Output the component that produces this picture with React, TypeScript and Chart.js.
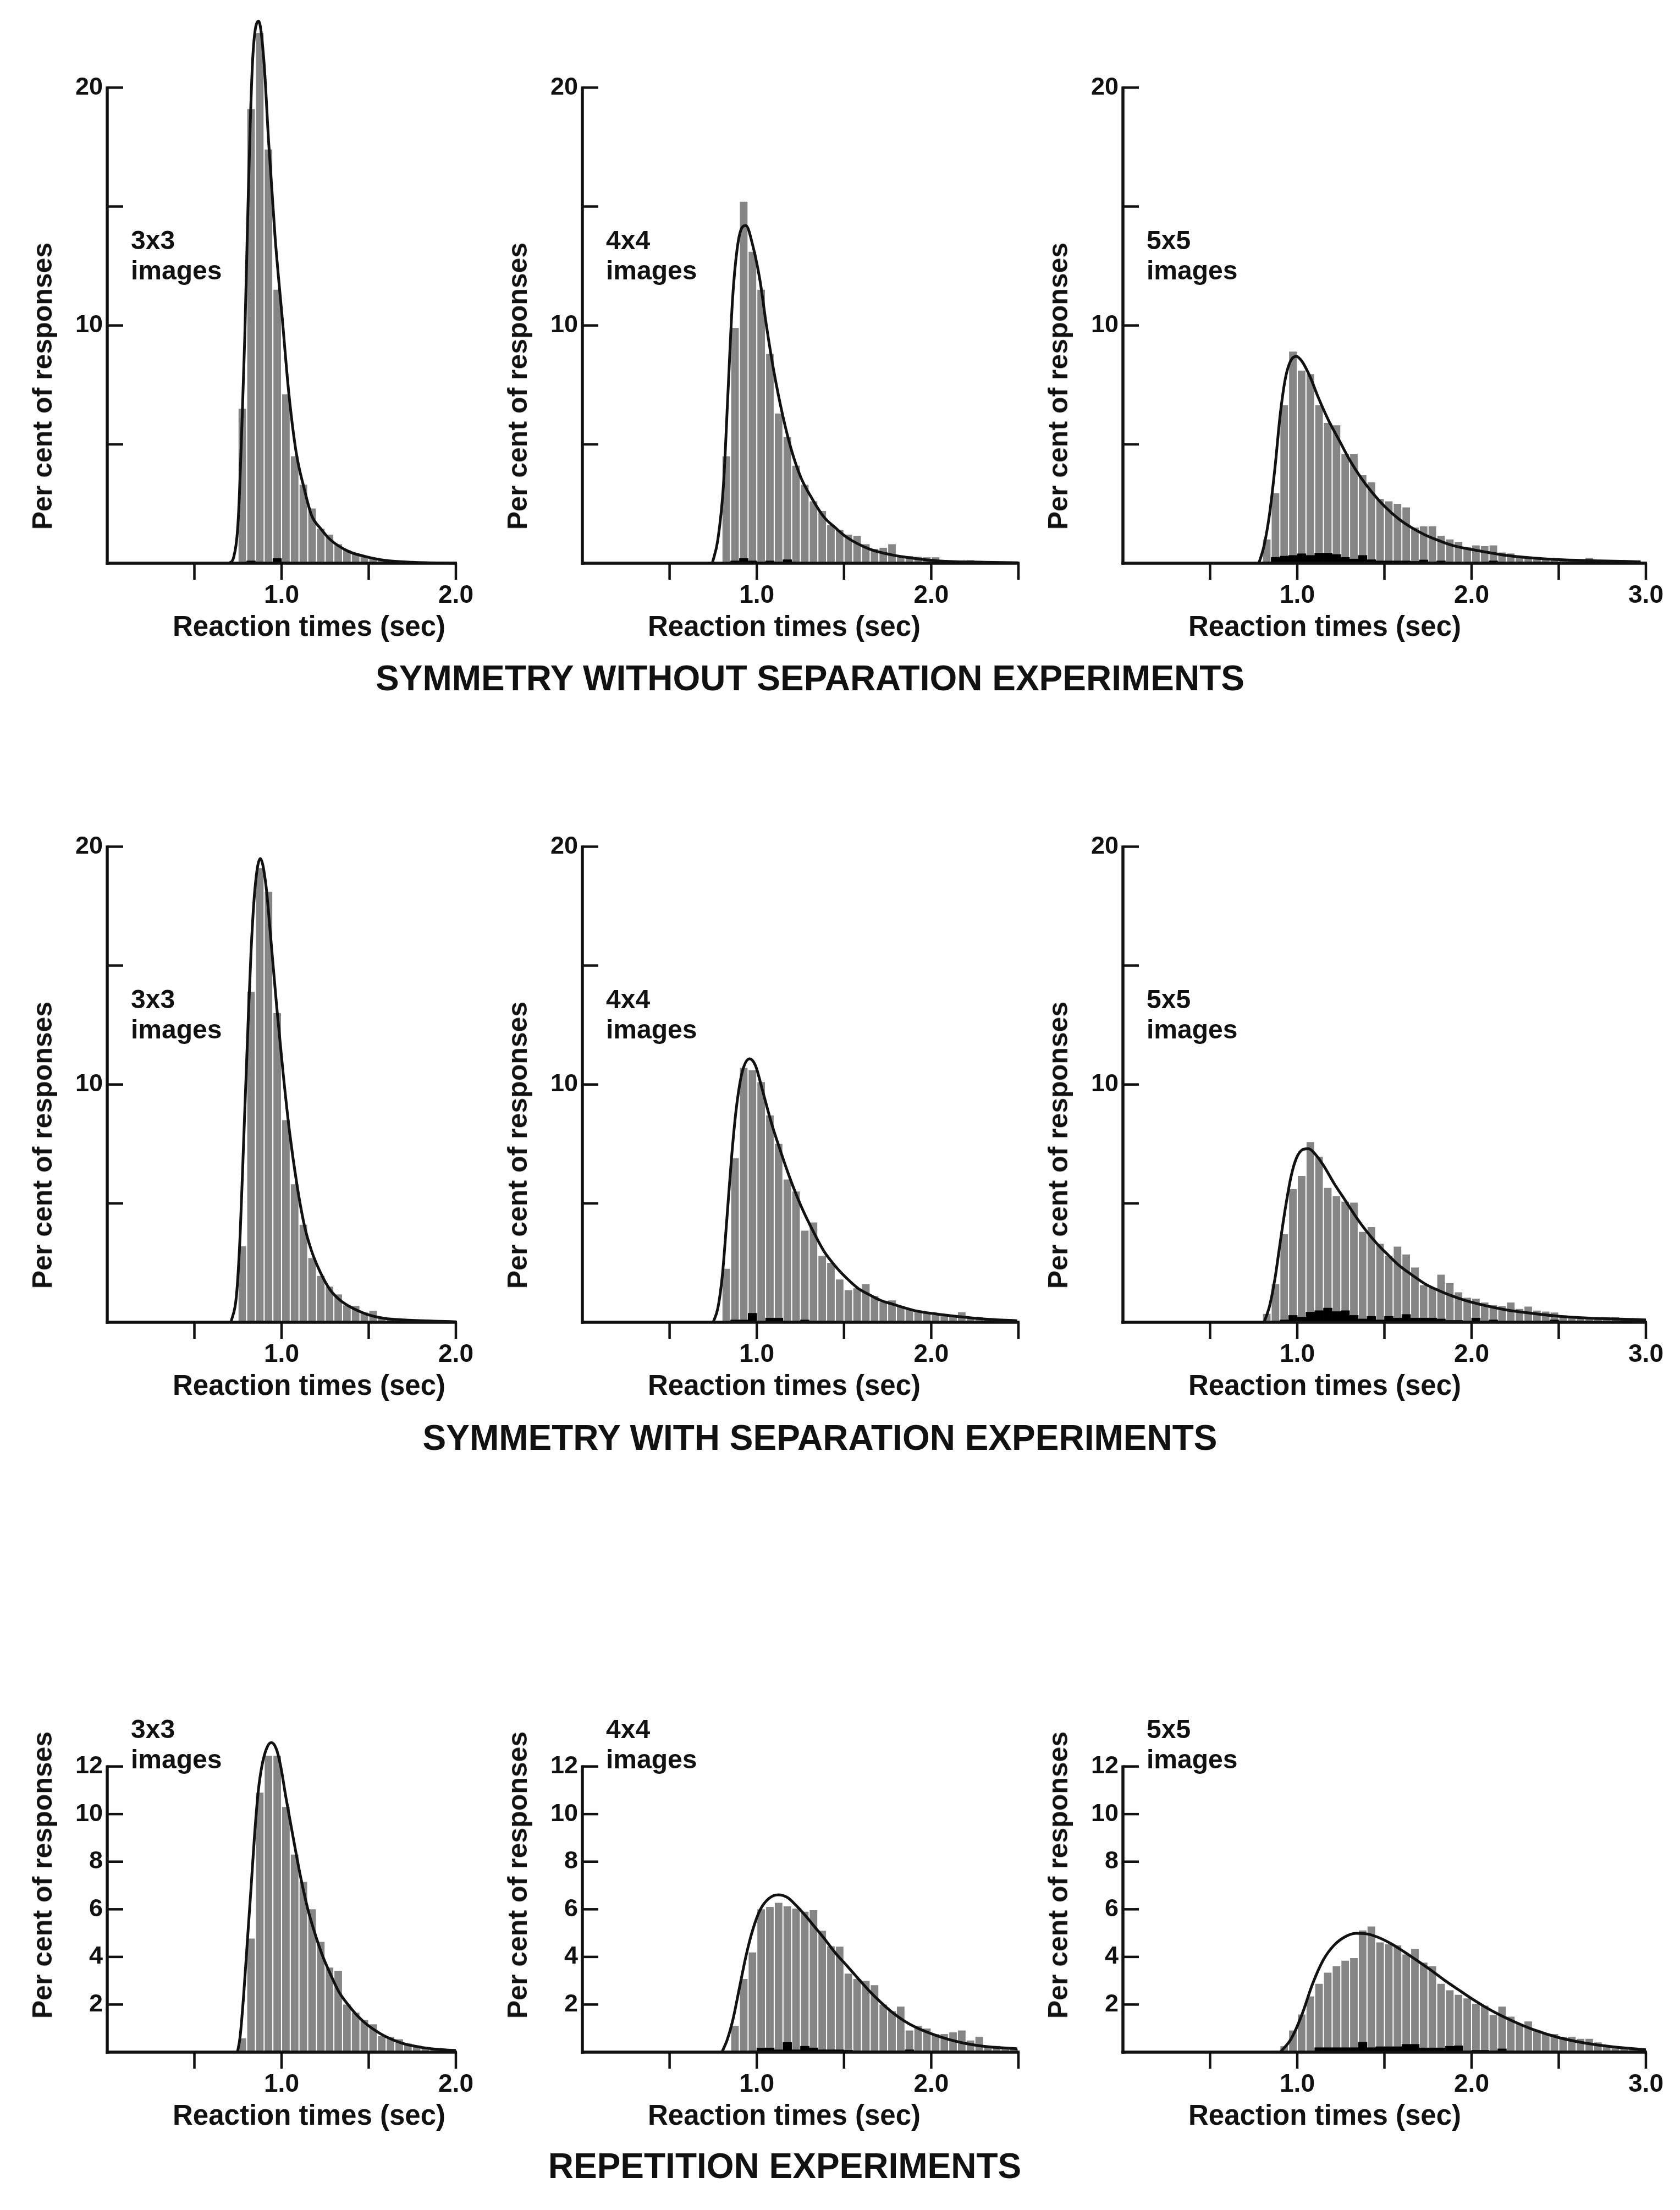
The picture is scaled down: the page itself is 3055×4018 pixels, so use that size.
import { useEffect, useRef } from 'react';
import { Chart, registerables } from 'chart.js';

Chart.register(...registerables);

// histogram bins are 0.05 s wide; values are per cent of responses
const BIN = 0.05;

// ---- symmetry without separation ----
const p1Start = 0.75;
const p1Gray = [6.5, 19.1, 22.3, 17.4, 11.5, 7.1, 4.5, 3.3, 2.3, 1.45, 1.2, 0.8, 0.55, 0.4, 0.3, 0.2, 0.15, 0.1, 0.1, 0.05, 0.05];
const p1Black = [0, 0.1, 0.05, 0, 0.2, 0.05, 0, 0, 0, 0, 0, 0, 0, 0, 0, 0, 0, 0, 0, 0, 0];
const p1CurveX = [0.70, 0.726, 0.752, 0.773, 0.789, 0.804, 0.820, 0.836, 0.868, 0.899, 0.926, 0.963, 1.004, 1.041, 1.083, 1.131, 1.173, 1.225, 1.278, 1.383, 1.488, 1.593, 1.75, 2.0];
const p1CurveY = [0, 0.27, 1.9, 5.9, 9.5, 14.0, 18.4, 21.4, 22.8, 21.1, 17.7, 13.7, 10.3, 7.2, 4.7, 3.1, 2.0, 1.45, 1.0, 0.5, 0.27, 0.12, 0.04, 0];

const p2Start = 0.80;
const p2Gray = [4.5, 9.9, 15.2, 13.1, 11.5, 8.8, 6.3, 5.3, 4.1, 3.3, 2.6, 2.2, 1.6, 1.4, 1.2, 1.15, 0.8, 0.6, 0.65, 0.8, 0.33, 0.3, 0.27, 0.25, 0.25, 0.13, 0.1, 0.1, 0.13, 0.1, 0.05];
const p2Black = [0, 0.1, 0.2, 0.1, 0.05, 0.1, 0.05, 0.15, 0.05, 0, 0, 0, 0, 0, 0, 0, 0, 0, 0, 0, 0, 0, 0, 0, 0, 0, 0, 0, 0, 0, 0];
const p2CurveX = [0.745, 0.777, 0.809, 0.835, 0.861, 0.887, 0.914, 0.937, 0.979, 1.018, 1.057, 1.097, 1.149, 1.201, 1.253, 1.318, 1.384, 1.449, 1.514, 1.645, 1.775, 1.906, 2.036, 2.232, 2.5];
const p2CurveY = [0, 1.0, 3.3, 7.2, 11.1, 13.2, 14.1, 14.2, 13.3, 11.9, 9.9, 8.1, 6.2, 4.7, 3.6, 2.7, 1.95, 1.5, 1.1, 0.6, 0.35, 0.2, 0.1, 0.05, 0.02];

const p3Start = 0.80;
const p3Gray = [1.0, 2.95, 6.65, 8.9, 8.1, 7.95, 6.65, 5.9, 5.8, 4.6, 4.6, 3.7, 3.4, 2.7, 2.6, 2.5, 2.35, 1.5, 1.55, 1.55, 1.15, 1.0, 0.9, 0.68, 0.75, 0.72, 0.75, 0.45, 0.41, 0.29, 0.25, 0.22, 0.18, 0.15, 0.14, 0.14, 0.12, 0.22, 0.1, 0.1, 0.08, 0.1, 0.06, 0.05];
const p3Black = [0.05, 0.25, 0.3, 0.33, 0.4, 0.33, 0.43, 0.43, 0.37, 0.25, 0.18, 0.33, 0.15, 0.1, 0.1, 0.1, 0.1, 0.08, 0.14, 0.06, 0.1, 0.05, 0.05, 0.05, 0.05, 0.05, 0.1, 0.05, 0.05, 0.05, 0.05, 0.05, 0.05, 0.05, 0.05, 0.05, 0.05, 0.05, 0.05, 0.05, 0.05, 0.05, 0.05, 0.05];
const p3CurveX = [0.78, 0.81, 0.841, 0.872, 0.903, 0.934, 0.964, 0.995, 1.026, 1.073, 1.119, 1.18, 1.242, 1.304, 1.365, 1.427, 1.504, 1.581, 1.658, 1.736, 1.813, 1.89, 2.044, 2.198, 2.352, 2.506, 2.738, 2.97];
const p3CurveY = [0, 0.75, 2.07, 4.0, 6.3, 7.85, 8.54, 8.7, 8.5, 7.85, 7.0, 6.0, 5.15, 4.3, 3.6, 3.0, 2.37, 1.87, 1.49, 1.18, 0.95, 0.75, 0.52, 0.33, 0.22, 0.15, 0.1, 0.06];

// ---- symmetry with separation ----
const p4Start = 0.75;
const p4Gray = [3.2, 13.9, 19.1, 18.1, 13.0, 8.5, 5.8, 4.1, 2.7, 1.95, 1.5, 1.17, 0.71, 0.69, 0.41, 0.48, 0.2, 0.15, 0.1, 0.14, 0.05];
const p4Black = [0, 0, 0.05, 0.05, 0, 0, 0, 0, 0, 0, 0, 0, 0, 0, 0, 0, 0, 0, 0, 0, 0];
const p4CurveX = [0.71, 0.741, 0.762, 0.783, 0.804, 0.825, 0.847, 0.878, 0.910, 0.941, 0.973, 1.010, 1.046, 1.088, 1.130, 1.172, 1.225, 1.278, 1.330, 1.383, 1.488, 1.593, 1.698, 1.909, 2.0];
const p4CurveY = [0, 1.1, 3.6, 7.7, 11.8, 15.6, 18.2, 19.5, 18.4, 15.9, 13.2, 10.4, 8.0, 5.8, 4.1, 3.0, 2.06, 1.37, 0.96, 0.69, 0.34, 0.16, 0.1, 0.04, 0.02];

const p5Start = 0.80;
const p5Gray = [2.25, 6.9, 10.7, 10.6, 10.1, 8.7, 7.5, 6.0, 5.5, 3.85, 4.2, 2.8, 2.5, 1.8, 1.35, 1.43, 1.6, 1.1, 0.85, 0.92, 0.69, 0.53, 0.5, 0.38, 0.3, 0.26, 0.3, 0.42, 0.18, 0.23, 0.14, 0.1, 0.08, 0.05];
const p5Black = [0, 0.1, 0.1, 0.38, 0.05, 0.18, 0.18, 0.05, 0.05, 0.1, 0.05, 0.05, 0.05, 0, 0, 0.05, 0, 0, 0, 0, 0, 0, 0, 0.05, 0, 0, 0, 0, 0, 0, 0, 0, 0, 0];
const p5CurveX = [0.75, 0.777, 0.803, 0.829, 0.855, 0.881, 0.914, 0.959, 0.992, 1.031, 1.083, 1.136, 1.188, 1.253, 1.318, 1.384, 1.449, 1.514, 1.580, 1.645, 1.710, 1.775, 1.906, 2.036, 2.167, 2.297, 2.493];
const p5CurveY = [0, 0.6, 2.0, 4.4, 6.9, 8.9, 10.45, 11.08, 10.8, 9.8, 8.4, 7.2, 6.1, 4.9, 3.9, 3.0, 2.37, 1.86, 1.43, 1.16, 0.92, 0.77, 0.49, 0.34, 0.23, 0.14, 0.06];

const p6Start = 0.80;
const p6Gray = [0.35, 1.6, 3.7, 5.6, 6.15, 7.58, 6.96, 5.65, 5.3, 5.07, 5.03, 3.8, 4.0, 3.3, 2.8, 3.18, 2.85, 2.3, 1.56, 1.45, 2.0, 1.64, 1.26, 1.03, 0.99, 0.83, 0.72, 0.68, 0.83, 0.56, 0.66, 0.49, 0.45, 0.41, 0.29, 0.22, 0.18, 0.18, 0.18, 0.14, 0.22, 0.14, 0.1, 0.08];
const p6Black = [0, 0.05, 0.1, 0.29, 0.22, 0.43, 0.49, 0.6, 0.45, 0.49, 0.29, 0.14, 0.25, 0.1, 0.25, 0.18, 0.33, 0.18, 0.18, 0.18, 0.14, 0.08, 0.08, 0.05, 0.18, 0.05, 0.1, 0.05, 0.05, 0.05, 0.05, 0.05, 0.05, 0.1, 0.05, 0.05, 0.05, 0.05, 0.05, 0.05, 0.05, 0.05, 0.05, 0.05];
const p6CurveX = [0.81, 0.841, 0.872, 0.903, 0.934, 0.965, 0.995, 1.034, 1.065, 1.103, 1.150, 1.211, 1.273, 1.335, 1.396, 1.458, 1.520, 1.581, 1.658, 1.736, 1.813, 1.890, 1.967, 2.044, 2.198, 2.352, 2.506, 2.66, 2.815, 3.0];
const p6CurveY = [0, 0.68, 1.83, 3.4, 4.9, 6.15, 6.9, 7.27, 7.3, 7.07, 6.6, 5.84, 5.15, 4.45, 3.84, 3.3, 2.84, 2.41, 1.99, 1.6, 1.33, 1.1, 0.91, 0.76, 0.52, 0.37, 0.25, 0.18, 0.14, 0.1];

// ---- repetition ----
const p7Start = 0.75;
const p7Gray = [0.58, 4.77, 10.9, 12.45, 12.45, 10.3, 8.3, 7.15, 6.0, 4.63, 3.55, 3.42, 2.0, 1.66, 1.35, 1.17, 0.67, 0.63, 0.54, 0.36, 0.27, 0.2, 0.18, 0.12, 0.1];
const p7Black = [0, 0, 0, 0.05, 0.05, 0.05, 0, 0, 0, 0, 0, 0, 0, 0, 0, 0, 0, 0, 0, 0, 0, 0, 0, 0, 0];
const p7CurveX = [0.747, 0.762, 0.783, 0.804, 0.825, 0.846, 0.867, 0.888, 0.915, 0.941, 0.968, 0.994, 1.025, 1.067, 1.109, 1.151, 1.193, 1.235, 1.277, 1.330, 1.383, 1.435, 1.488, 1.540, 1.593, 1.698, 1.804, 1.909, 2.0];
const p7CurveY = [0, 0.63, 2.43, 4.68, 6.9, 9.2, 11.0, 12.05, 12.77, 13.0, 12.77, 12.05, 10.7, 9.0, 7.37, 6.0, 4.95, 4.05, 3.33, 2.52, 1.98, 1.53, 1.17, 0.9, 0.67, 0.36, 0.2, 0.11, 0.07];

const p8Start = 0.80;
const p8Gray = [0.06, 1.1, 3.07, 4.19, 6.0, 6.1, 6.27, 6.13, 6.03, 5.9, 5.96, 5.1, 4.45, 4.43, 3.3, 3.07, 2.99, 2.81, 2.0, 1.72, 1.91, 0.91, 1.1, 0.99, 0.76, 0.76, 0.83, 0.91, 0.49, 0.64, 0.26, 0.26, 0.18, 0.14];
const p8Black = [0, 0, 0, 0.05, 0.18, 0.18, 0.1, 0.41, 0.1, 0.25, 0.18, 0.1, 0.1, 0.1, 0.08, 0.05, 0.05, 0.05, 0.05, 0.05, 0.05, 0.1, 0.05, 0.05, 0.05, 0.05, 0.05, 0.05, 0.05, 0.05, 0.05, 0, 0, 0];
const p8CurveX = [0.80, 0.829, 0.862, 0.901, 0.940, 0.979, 1.018, 1.070, 1.123, 1.175, 1.227, 1.279, 1.332, 1.384, 1.449, 1.514, 1.580, 1.645, 1.710, 1.775, 1.841, 1.906, 2.036, 2.167, 2.297, 2.493];
const p8CurveY = [0, 0.49, 1.33, 2.72, 4.1, 5.19, 5.96, 6.46, 6.61, 6.5, 6.15, 5.73, 5.26, 4.8, 4.18, 3.65, 3.1, 2.57, 2.1, 1.68, 1.33, 1.06, 0.68, 0.41, 0.25, 0.14];

const p9Start = 0.80;
const p9Gray = [0, 0.05, 0.25, 0.91, 1.58, 2.34, 2.87, 3.34, 3.61, 3.84, 3.95, 5.11, 5.28, 4.61, 4.53, 4.49, 4.1, 4.34, 3.76, 3.61, 2.87, 2.6, 2.41, 2.26, 2.03, 1.95, 1.56, 1.91, 1.49, 1.18, 1.29, 0.91, 0.79, 0.76, 0.64, 0.64, 0.56, 0.56, 0.41, 0.25, 0.18, 0.22, 0.18, 0.14];
const p9Black = [0, 0, 0, 0, 0, 0, 0.19, 0.19, 0.19, 0.19, 0.19, 0.42, 0.19, 0.23, 0.23, 0.23, 0.33, 0.33, 0.18, 0.18, 0.18, 0.25, 0.27, 0.05, 0.08, 0.08, 0.05, 0.14, 0.05, 0.05, 0.05, 0.05, 0.05, 0.05, 0.05, 0.05, 0.05, 0.05, 0.05, 0.05, 0.05, 0.05, 0.05, 0.05];
const p9CurveX = [0.903, 0.965, 1.026, 1.088, 1.150, 1.211, 1.273, 1.335, 1.396, 1.458, 1.535, 1.612, 1.689, 1.766, 1.843, 1.921, 1.998, 2.075, 2.152, 2.229, 2.353, 2.506, 2.66, 2.815, 3.0];
const p9CurveY = [0, 0.56, 1.56, 2.87, 3.88, 4.49, 4.84, 4.99, 4.97, 4.84, 4.57, 4.22, 3.84, 3.45, 3.03, 2.64, 2.26, 1.91, 1.6, 1.33, 0.95, 0.6, 0.37, 0.22, 0.1];

// labels
const panelTags = ['3x3', '4x4', '5x5'];
const rowTitles = ['SYMMETRY WITHOUT SEPARATION EXPERIMENTS', 'SYMMETRY WITH SEPARATION EXPERIMENTS', 'REPETITION EXPERIMENTS'];
const xMaxes = [2.0, 2.5, 3.0];
const xLabelValues = [1, 2, 3];
const symYLabels = [10, 20];
const repYLabels = [2, 4, 6, 8, 10, 12];

// layout (page pixels)
const PX_PER_SEC = 317;
const PX_PER_UNIT = 43.25;
const COL_X0 = [195, 1059, 2042];
const ROW_BASE = [1024, 2404, 3731];
const ROW_TITLE_X = [1473, 1491, 1427];
const ROW_TITLE_Y = [1255, 2636, 3960];
const LEFT_W = 130;
const RIGHT_PAD = 50;
const TOP_PAD = 12;
const BOTTOM_H = 100;
const INK = '#111';
const GRAY = '#858585';
const FONT = '"Liberation Sans", Arial, Helvetica, sans-serif';

type PanelDef = {
  row: number;
  col: number;
  start: number;
  gray: number[];
  black: number[];
  curveX: number[];
  curveY: number[];
};

const panels: PanelDef[] = [
  { row: 0, col: 0, start: p1Start, gray: p1Gray, black: p1Black, curveX: p1CurveX, curveY: p1CurveY },
  { row: 0, col: 1, start: p2Start, gray: p2Gray, black: p2Black, curveX: p2CurveX, curveY: p2CurveY },
  { row: 0, col: 2, start: p3Start, gray: p3Gray, black: p3Black, curveX: p3CurveX, curveY: p3CurveY },
  { row: 1, col: 0, start: p4Start, gray: p4Gray, black: p4Black, curveX: p4CurveX, curveY: p4CurveY },
  { row: 1, col: 1, start: p5Start, gray: p5Gray, black: p5Black, curveX: p5CurveX, curveY: p5CurveY },
  { row: 1, col: 2, start: p6Start, gray: p6Gray, black: p6Black, curveX: p6CurveX, curveY: p6CurveY },
  { row: 2, col: 0, start: p7Start, gray: p7Gray, black: p7Black, curveX: p7CurveX, curveY: p7CurveY },
  { row: 2, col: 1, start: p8Start, gray: p8Gray, black: p8Black, curveX: p8CurveX, curveY: p8CurveY },
  { row: 2, col: 2, start: p9Start, gray: p9Gray, black: p9Black, curveX: p9CurveX, curveY: p9CurveY },
];

// axis lines and tick marks: y ticks point inwards, x ticks point down
const axesPlugin = {
  id: 'panelAxes',
  afterDatasetsDraw(chart: any, _args: any, opts: any) {
    const { ctx } = chart;
    const xs = chart.scales.x;
    const ys = chart.scales.y;
    const x0 = xs.getPixelForValue(0);
    const y0 = ys.getPixelForValue(0);
    const seg = (a: number, b: number, c: number, d: number) => {
      ctx.beginPath();
      ctx.moveTo(a, b);
      ctx.lineTo(c, d);
      ctx.stroke();
    };
    ctx.save();
    ctx.strokeStyle = INK;
    ctx.lineWidth = 4.5;
    xs.ticks.forEach((t: any) => {
      if (t.value > 0) {
        const px = xs.getPixelForValue(t.value);
        seg(px, y0, px, y0 + 30);
      }
    });
    ys.ticks.forEach((t: any) => {
      if (t.value > 0 && t.value <= opts.top) {
        const py = ys.getPixelForValue(t.value);
        seg(x0, py, x0 + 29, py);
      }
    });
    ctx.lineWidth = 5.5;
    seg(x0, y0 + 2.75, x0, ys.getPixelForValue(opts.top) - 2);
    seg(x0 - 2.75, y0, xs.getPixelForValue(xs.max) + 2, y0);
    ctx.restore();
  },
};

function Text({ x, y, size, text, center }: { x: number; y: number; size: number; text: string; center?: boolean }) {
  // y is the text baseline
  return (
    <div
      style={{
        position: 'absolute',
        left: x,
        top: y - 0.8465 * size,
        font: `bold ${size}px ${FONT}`,
        lineHeight: `${size}px`,
        whiteSpace: 'nowrap',
        color: INK,
        transform: center ? 'translateX(-50%)' : undefined,
      }}
    >
      {text}
    </div>
  );
}

function Panel({ def }: { def: PanelDef }) {
  const canvasRef = useRef<HTMLCanvasElement | null>(null);
  const rep = def.row === 2;
  const xMax = xMaxes[def.col];
  const yMax = rep ? 13.4 : 23.2;
  const yTop = rep ? 12 : 20;
  const yStep = rep ? 2 : 5;
  const yLabels = rep ? repYLabels : symYLabels;
  const x0 = COL_X0[def.col];
  const base = ROW_BASE[def.row];
  const plotW = Math.round(xMax * PX_PER_SEC);
  const plotH = Math.round(yMax * PX_PER_UNIT);
  const W = LEFT_W + plotW + RIGHT_PAD;
  const H = TOP_PAD + plotH + BOTTOM_H;

  useEffect(() => {
    const ctx = canvasRef.current?.getContext('2d');
    if (!ctx) return;
    const centers = def.gray.map((_, i) => def.start + (i + 0.5) * BIN);
    const chart = new Chart(ctx, {
      type: 'bar',
      data: {
        datasets: [
          {
            type: 'line',
            data: def.curveX.map((x, i) => ({ x, y: def.curveY[i] })),
            borderColor: INK,
            borderWidth: 5,
            pointRadius: 0,
            cubicInterpolationMode: 'monotone',
            fill: false,
            order: 0,
            clip: 20,
          } as any,
          {
            type: 'bar',
            data: centers.map((x, i) => ({ x, y: def.black[i] })),
            backgroundColor: '#000',
            borderWidth: 0,
            grouped: false,
            barPercentage: 1,
            categoryPercentage: 1,
            order: 1,
          } as any,
          {
            type: 'bar',
            data: centers.map((x, i) => ({ x, y: def.gray[i] })),
            backgroundColor: GRAY,
            borderWidth: 0,
            grouped: false,
            barPercentage: 1,
            categoryPercentage: 0.87,
            order: 2,
          } as any,
        ],
      },
      options: {
        responsive: false,
        animation: false,
        events: [],
        layout: { padding: { left: 0, top: TOP_PAD, right: RIGHT_PAD, bottom: 0 } },
        plugins: {
          legend: { display: false },
          tooltip: { enabled: false },
          panelAxes: { top: yTop },
        } as any,
        scales: {
          x: {
            type: 'linear',
            min: 0,
            max: xMax,
            offset: false,
            grid: { display: false, drawTicks: false, offset: false },
            border: { display: false },
            ticks: {
              stepSize: 0.5,
              autoSkip: false,
              maxRotation: 0,
              padding: 32,
              color: INK,
              font: { family: FONT, size: 46, weight: 'bold', lineHeight: 1.2 },
              callback: (v: any) =>
                xLabelValues.some((l) => Math.abs(l - Number(v)) < 1e-6) ? Number(v).toFixed(1) : '',
            },
            afterFit: (s: any) => {
              s.height = BOTTOM_H;
              s.paddingLeft = 0;
              s.paddingRight = 0;
            },
          },
          y: {
            type: 'linear',
            min: 0,
            max: yMax,
            grid: { display: false, drawTicks: false },
            border: { display: false },
            ticks: {
              stepSize: yStep,
              includeBounds: false,
              autoSkip: false,
              padding: 8,
              color: INK,
              font: { family: FONT, size: 45, weight: 'bold', lineHeight: 1.2 },
              callback: (v: any) => (yLabels.includes(Number(v)) ? String(v) : ''),
            },
            afterFit: (s: any) => {
              s.width = LEFT_W;
              s.paddingTop = 0;
              s.paddingBottom = 0;
            },
          },
        },
      } as any,
      plugins: [axesPlugin],
    });
    return () => chart.destroy();
  }, []);

  return (
    <>
      <canvas
        ref={canvasRef}
        width={W}
        height={H}
        style={{ position: 'absolute', left: x0 - LEFT_W, top: base - plotH - TOP_PAD, width: W, height: H }}
      />
      <div
        style={{
          position: 'absolute',
          left: x0 - 118,
          top: base - 322,
          font: `bold 50px ${FONT}`,
          lineHeight: '50px',
          whiteSpace: 'nowrap',
          color: INK,
          transform: 'translate(-50%, -50%) rotate(-90deg)',
        }}
      >
        Per cent of responses
      </div>
      <Text x={x0 + 367} y={base + 132} size={51} text="Reaction times (sec)" center />
      <Text x={x0 + 43} y={base - 570} size={48} text={panelTags[def.col]} />
      <Text x={x0 + 43} y={base - 515} size={48} text="images" />
    </>
  );
}

export default function App() {
  return (
    <div style={{ position: 'absolute', left: 0, top: 0, width: 3055, height: 4018, background: '#fff' }}>
      {panels.map((p, i) => (
        <Panel key={i} def={p} />
      ))}
      {rowTitles.map((t, i) => (
        <Text key={t} x={ROW_TITLE_X[i]} y={ROW_TITLE_Y[i]} size={64} text={t} center />
      ))}
    </div>
  );
}
